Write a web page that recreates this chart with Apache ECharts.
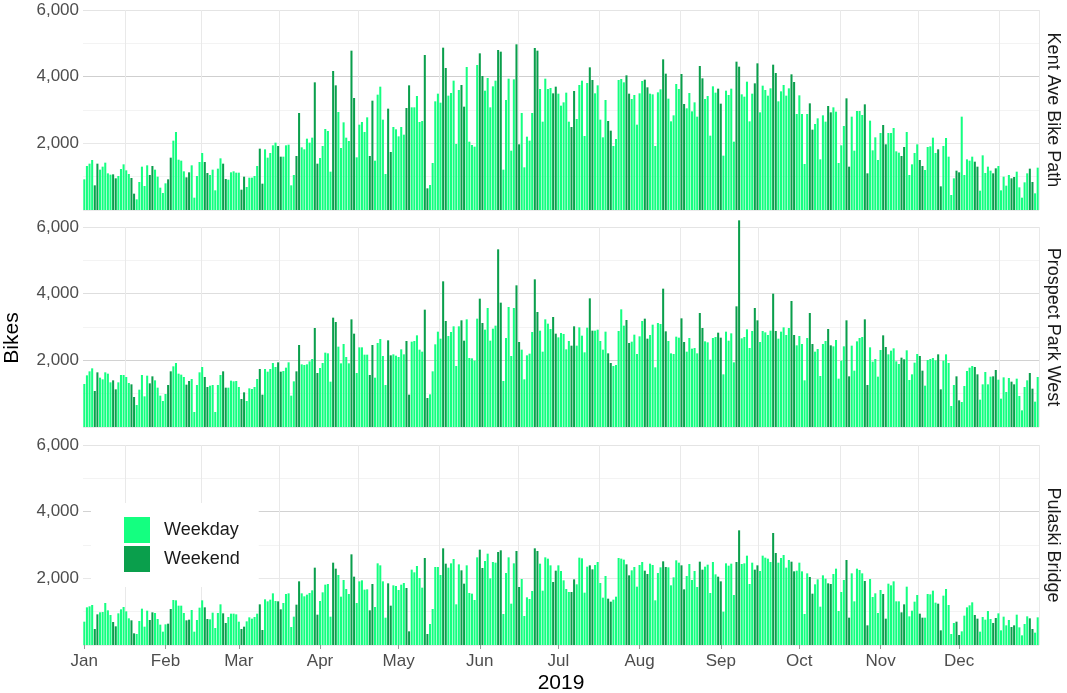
<!DOCTYPE html>
<html>
<head>
<meta charset="utf-8">
<title>Bike counts 2019</title>
<script src="https://cdn.jsdelivr.net/npm/echarts@6/dist/echarts.min.js"></script>
<style>
  html, body { margin: 0; padding: 0; background: #fff; }
  #chart { width: 1067px; height: 693px; }
</style>
</head>
<body>
<div id="chart"></div>
<script>
const months = ['Jan', 'Feb', 'Mar', 'Apr', 'May', 'Jun', 'Jul', 'Aug', 'Sep', 'Oct', 'Nov', 'Dec'];
const monthDays = [31, 28, 31, 30, 31, 30, 31, 31, 30, 31, 30, 31];
const facetNames = ['Kent Ave Bike Path', 'Prospect Park West', 'Pulaski Bridge'];
const yTicks = [2000, 4000, 6000];

// daily counts, one line per month
const kentAve = [
  920,1320,1390,1500,740,1390,1210,1300,1420,1100,1060,1070,950,1020,1230,1370,1190,1080,960,490,320,840,1300,720,1340,1050,1320,1210,1000,670,510,
  800,920,1570,2080,2340,1510,1480,1160,980,1130,1340,370,1020,1440,1710,1440,1110,1050,1210,590,1240,1550,1390,930,910,1130,1160,1120,
  1120,610,1000,690,970,970,1020,1320,1840,790,1820,1570,1710,1940,2020,1920,1600,1600,1940,1960,740,1050,1620,2910,1880,1820,2140,2020,2170,3830,1390,
  1560,1920,2430,2370,1150,4170,3740,2940,1860,2630,2170,2070,4780,3360,1580,2560,2640,2340,2780,1620,3280,1480,3460,3700,2710,1080,3040,1740,2490,2420,
  2210,2490,2260,3060,3740,3080,3080,3420,2640,2670,4650,650,750,1410,3260,3490,3220,4870,4260,3430,3510,3880,1980,3600,3750,3100,4290,2050,1950,1900,4350,
  4700,4020,3580,3960,3080,3710,3880,4800,4750,1210,3300,3940,1780,3920,4970,1970,2910,1280,2200,2080,2910,4860,4780,3630,2650,3940,3630,3660,3500,3700,
  3490,3130,3230,3520,2650,2490,3570,2730,3750,3880,2220,3810,4280,3900,3500,3740,2710,2180,3300,2670,2380,1920,2130,3900,3930,3830,4040,3490,3330,3450,2560,
  3500,3870,3910,3680,3490,3470,1920,3530,3620,4520,4090,3340,2660,2840,3780,3630,4080,3180,3050,3510,2960,3230,2800,4320,3950,3330,3420,2230,3710,3520,3640,
  3190,1630,3580,3450,3640,2050,4450,4300,3470,3400,3850,2660,3490,3800,4400,2930,3730,3600,3430,3650,4360,4110,3260,3560,3750,3430,3650,4070,3840,2880,
  3440,2880,1380,2880,3200,2410,2580,2750,1520,2840,2650,3120,2930,3080,2950,1410,1940,2520,3350,1300,2800,1780,2970,2970,2850,3170,1100,2680,1790,2180,1500,
  2310,2550,1970,2310,2310,2460,1760,1720,1620,1890,2340,1050,1370,1710,1970,1500,1320,1200,1890,1910,2170,1710,1820,710,1920,2160,1600,450,950,1180,
  1130,2800,1050,1520,1480,1600,1450,1300,580,1640,1110,1300,1180,1100,1250,1320,590,1000,730,1050,950,990,1150,680,370,830,1100,1240,840,500,1270
];

const prospectPark = [
  1290,1550,1670,1760,1080,1640,1480,1430,1640,1600,1340,1400,1130,1340,1560,1560,1500,1320,1280,900,660,1120,1560,920,1540,1310,1520,1400,1180,940,780,
  990,1260,1670,1820,1920,1600,1570,1500,1270,1380,1440,450,1260,1640,1800,1500,1200,1240,1260,450,1260,1560,1670,1180,1180,1390,1370,1380,
  1200,840,1040,780,1160,1140,1200,1440,1740,970,1740,1660,1740,1920,1800,1940,1660,1680,1780,1940,940,1370,1670,2460,1880,1860,1880,1970,2040,2970,1620,
  1770,1920,2230,2210,1360,3280,3150,2410,1910,2490,2100,1910,3230,2800,1620,2390,2390,2170,2170,1560,2460,1480,2520,2640,2130,1260,2600,2150,2180,2140,
  2100,2330,2180,2580,970,2560,2580,2750,2320,2260,3520,870,980,1670,2480,2860,2650,4370,3180,2730,2850,3020,1830,3020,3200,2590,3230,2070,2060,1990,3250,
  3850,3120,2920,3570,2590,2950,3040,5330,3730,1380,2670,3600,2130,3570,4250,2550,2320,1430,2150,2200,2850,4430,3450,2890,2260,3230,3100,2940,3300,2800,
  2690,2820,2790,2330,2580,2440,3020,2440,2990,2740,2240,2980,3860,2890,2890,2920,2580,2320,2860,2210,1920,1830,1860,2880,3530,3040,3210,2520,2560,2770,2190,
  2720,3180,3250,2650,2760,3070,1790,3120,3090,4150,2870,2580,2210,2190,2710,2680,3260,2550,2260,2670,2350,2370,2210,3420,2970,2570,2540,2020,2670,2700,2830,
  2680,1580,2860,2590,2810,1940,3620,6200,2660,2700,2930,2370,2880,3570,3200,2550,2880,2840,2760,2890,4000,2880,2650,2860,2990,2760,2970,3780,2760,2450,
  2730,2490,1400,2670,3420,2490,2260,2340,1530,2490,2580,2940,2450,2420,2610,1450,1990,2420,3200,1520,2440,1690,2570,2670,2700,3230,1260,2390,1960,2040,1510,
  2310,2750,2400,2180,2290,2360,1970,1890,2080,2030,2300,1410,1580,1930,2190,2130,1690,1240,2010,2040,2070,2000,2180,1130,1990,2180,1920,630,1260,1520,
  800,750,1230,1680,1780,1830,1800,1580,820,1280,1650,1280,1510,1520,1710,1420,850,1490,1050,1470,1360,1280,1450,930,500,1200,1400,1620,1150,760,1500
];

const pulaskiBridge = [
  700,1130,1160,1200,480,920,980,990,1260,1040,900,690,560,950,1070,1140,1010,800,740,350,330,720,1090,550,1030,750,980,960,780,610,400,
  620,640,1080,1350,1340,1180,1180,960,740,760,1050,400,750,1120,1340,1130,780,770,970,510,960,1220,950,660,840,940,940,920,
  700,480,550,710,830,790,840,940,1220,450,1370,1310,1360,1550,1320,1310,1070,1260,1530,1550,540,850,1210,1910,1550,1460,1510,1560,1640,2320,910,
  1320,1580,1810,1830,850,2470,2290,2100,1450,1950,1680,1530,2720,2050,1260,1910,1940,1660,1670,1040,1830,1140,2450,2390,1910,820,1850,1180,1790,1770,
  1650,1810,1860,1710,410,2260,2180,2370,2010,1720,2610,330,630,1080,2340,2340,2100,2900,2440,2320,2450,2580,1220,2420,2240,1840,2390,1560,1540,1350,2630,
  2860,2310,2520,2740,2000,2490,2470,2790,2840,930,2160,2630,1240,2450,2820,1740,1980,870,1430,1380,1620,2900,2820,2440,1630,2630,2590,2390,1890,2230,
  2390,2220,1940,1680,1590,1590,1970,1820,2620,2600,1570,2350,2390,2270,2400,2490,1860,1420,2070,1390,1300,1360,1450,2610,2590,2560,2420,2090,2240,2340,1750,
  2400,2490,2230,2130,2440,2400,1340,2160,2330,2510,2340,2330,1790,2030,2540,2470,2390,1670,2070,2430,1950,2220,1740,2500,2260,2350,2410,1560,2490,2120,2050,
  1910,1000,2450,2380,2440,1500,2490,3440,2430,2450,2680,1830,2470,2260,2390,2220,2680,2620,2590,2490,3360,2760,2470,2610,2700,2320,2550,2500,2210,2230,
  2470,2210,930,2150,2040,1540,1820,1970,1150,2090,1990,1850,1830,2130,2290,1020,1590,1950,2550,820,2150,1310,2290,2250,2150,1920,590,1980,1440,1550,960,
  1650,1530,790,1840,1790,1910,1310,1310,980,1220,1750,860,1030,1300,1500,940,820,820,1530,1520,1630,1270,1240,440,1480,1680,1200,330,660,700,
  300,410,880,1130,1190,1280,900,790,400,840,760,1020,780,660,810,950,440,850,590,750,540,590,910,530,290,630,860,800,480,370,830
];

const facetValues = [kentAve, prospectPark, pulaskiBridge];

const WEEKDAY = '#14ff80';
const WEEKEND = '#0a9f4c';

// days of 2019
const days = [];
const isWeekend = [];
const monthStart = [];
months.forEach((m, mi) => {
  monthStart.push(days.length);
  for (let d = 1; d <= monthDays[mi]; d++) {
    days.push(m + ' ' + d);
    const wd = new Date(2019, mi, d).getDay();
    isWeekend.push(wd === 0 || wd === 6);
  }
});
const startSet = new Set(monthStart);
const midSet = new Set(monthStart.map((s, i) => {
  const next = i < 11 ? monthStart[i + 1] : days.length;
  return Math.ceil((s + next) / 2);
}));

const gridTops = [10, 227, 445];
const hLineColors = [
  ['#ebebeb', '#f3f3f3', '#e8e8e8', '#f3f3f3', '#cfcfcf', '#f3f3f3', '#e4e4e4'],
  ['#ebebeb', '#f3f3f3', '#d2d2d2', '#f3f3f3', '#dedede', '#f3f3f3', '#e4e4e4'],
  ['#ebebeb', '#f3f3f3', '#e8e8e8', '#f3f3f3', '#d2d2d2', '#f3f3f3', '#e4e4e4']
];

const chart = echarts.init(document.getElementById('chart'), null, { renderer: 'canvas' });

const grids = [], xAxes = [], yAxes = [], series = [];
facetValues.forEach((vals, f) => {
  const last = f === facetValues.length - 1;
  grids.push({ left: 83, right: 28, top: gridTops[f], height: 200 });
  xAxes.push({
    type: 'category',
    gridIndex: f,
    data: days,
    boundaryGap: true,
    axisLine: { show: false },
    axisTick: {
      show: last,
      alignWithLabel: true,
      length: 4,
      interval: (i) => startSet.has(i),
      lineStyle: { color: '#9a9a9a', width: 1 }
    },
    axisLabel: {
      show: last,
      interval: (i) => startSet.has(i),
      formatter: (v) => v.split(' ')[0],
      color: '#4d4d4d',
      fontSize: 17,
      margin: 8
    },
    splitLine: {
      show: true,
      interval: (i) => midSet.has(i),
      lineStyle: { color: '#e9e9e9', width: 1 }
    }
  });
  yAxes.push({
    type: 'value',
    gridIndex: f,
    min: 0,
    max: 6000,
    interval: 1000,
    axisLine: { show: false },
    axisTick: { show: false },
    axisLabel: {
      color: '#4d4d4d',
      fontSize: 17,
      margin: 4,
      formatter: (v) => yTicks.includes(v) ? v.toLocaleString('en-US') : ''
    },
    splitLine: { show: true, lineStyle: { color: hLineColors[f], width: 1 } }
  });
  series.push({
    name: 'Weekday',
    type: 'bar',
    xAxisIndex: f,
    yAxisIndex: f,
    data: vals.map((v, i) => isWeekend[i] ? '-' : v),
    itemStyle: { color: WEEKDAY },
    barCategoryGap: '22%',
    barGap: '-100%',
    clip: false
  });
  series.push({
    name: 'Weekend',
    type: 'bar',
    xAxisIndex: f,
    yAxisIndex: f,
    data: vals.map((v, i) => isWeekend[i] ? v : '-'),
    itemStyle: { color: WEEKEND },
    barCategoryGap: '22%',
    barGap: '-100%',
    clip: false
  });
});

const stripText = facetNames.map((name, f) => ({
  type: 'text',
  x: 1053,
  y: gridTops[f] + 100,
  rotation: -Math.PI / 2,
  style: {
    text: name,
    fontSize: 18,
    fill: '#1a1a1a',
    align: 'center',
    verticalAlign: 'middle',
    fontFamily: 'Liberation Sans, Arial, sans-serif'
  }
}));

chart.setOption({
  animation: false,
  backgroundColor: '#ffffff',
  textStyle: { fontFamily: 'Liberation Sans, Arial, sans-serif' },
  grid: grids,
  xAxis: xAxes,
  yAxis: yAxes,
  series: series,
  legend: {
    data: ['Weekday', 'Weekend'],
    orient: 'vertical',
    left: 91,
    top: 503,
    icon: 'rect',
    itemWidth: 26,
    itemHeight: 26,
    itemGap: 3,
    padding: [14, 19, 15, 33],
    backgroundColor: '#ffffff',
    textStyle: { fontSize: 18, color: '#1a1a1a', padding: [0, 0, 0, 9] }
  },
  graphic: stripText.concat([
    {
      type: 'text',
      x: 12,
      y: 338,
      rotation: Math.PI / 2,
      style: {
        text: 'Bikes', fontSize: 21, fill: '#000', align: 'center', verticalAlign: 'middle',
        fontFamily: 'Liberation Sans, Arial, sans-serif'
      }
    },
    {
      type: 'text',
      x: 561,
      y: 683,
      style: {
        text: '2019', fontSize: 21, fill: '#000', align: 'center', verticalAlign: 'middle',
        fontFamily: 'Liberation Sans, Arial, sans-serif'
      }
    }
  ])
});
</script>
</body>
</html>
